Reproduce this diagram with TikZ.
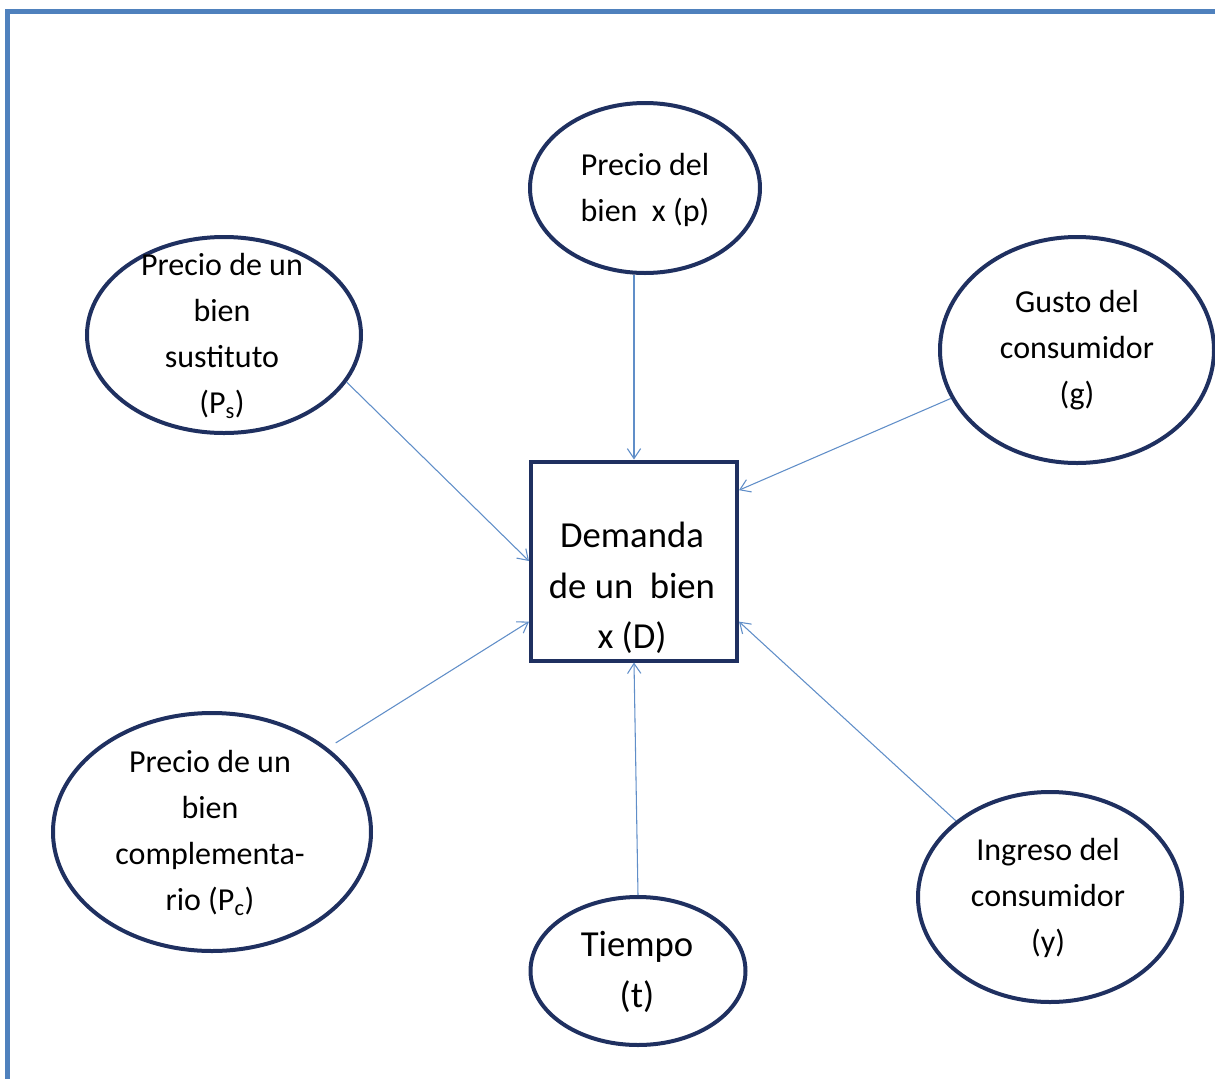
\documentclass[tikz,border=0pt]{standalone}
\usepackage{fontspec}
\setmainfont{Carlito}
\usetikzlibrary{shapes.geometric,arrows.meta}

\definecolor{framebl}{RGB}{79,129,189}
\definecolor{navyln}{RGB}{31,48,96}
\definecolor{arrowbl}{RGB}{96,142,200}

\tikzset{every picture/.style={line width=0.75pt}}
\tikzset{
  bub/.style={ellipse, draw=navyln, line width=3pt, inner sep=0pt},
  txt/.style={align=center, inner sep=0pt, font=\fontsize{24}{34.5}\selectfont},
  bigtxt/.style={align=center, inner sep=0pt, font=\fontsize{27.5}{38}\selectfont},
  feed/.style={draw=arrowbl, line width=0.8pt, -{Straight Barb[length=7.5pt,width=10pt]}}
}

\begin{document}
\begin{tikzpicture}[x=0.75pt,y=0.75pt,yscale=-1,xscale=1]
\useasboundingbox (0,0) rectangle (1215,1079);

%Frame
\draw [color=framebl, line width=3.75pt] (7,1079) -- (7,11) -- (1215,11);

%Shape: Rectangle
\node [draw=navyln, line width=3pt, minimum width=154.5pt, minimum height=149.25pt, inner sep=0pt] (dem) at (634,561) {};
% Text Node
\node [bigtxt] (dem-t) at (632,588) {Demanda\\de un~ bien\\x (D)};

%Shape: Ellipse
\node [bub, minimum width=172.5pt, minimum height=127.5pt] (precio) at (645,188) {};
\node [txt] (precio-t) at (645,190) {Precio del\\bien~ x (p)};
%Shape: Ellipse
\node [bub, minimum width=205.5pt, minimum height=147pt] (sust) at (224,335) {};
\node [txt] (sust-t) at (222,336) {Precio de un\\bien\\sustituto\\(P\textsubscript{s})};
%Shape: Ellipse
\node [bub, minimum width=205.5pt, minimum height=169.5pt] (gusto) at (1077,350) {};
\node [txt] (gusto-t) at (1077,350) {Gusto del\\consumidor\\(g)};
%Shape: Ellipse
\node [bub, minimum width=238.5pt, minimum height=178.5pt] (compl) at (212,832) {};
\node [txt] (compl-t) at (210,833) {Precio de un\\bien\\complementa-\\rio (P\textsubscript{c})};
%Shape: Ellipse
\node [bub, minimum width=161.25pt, minimum height=111pt] (tiempo) at (638,971) {};
\node [bigtxt] (tiempo-t) at (637,972) {Tiempo\\(t)};
%Shape: Ellipse
\node [bub, minimum width=198pt, minimum height=157.5pt] (ingreso) at (1050,897) {};
\node [txt] (ingreso-t) at (1048,898) {Ingreso del\\consumidor\\(y)};

%Straight Lines
\draw [feed] (precio.south -| dem.north) -- (dem.north);
\draw [feed] (sust.-21) -- (dem.west);
\draw [feed] (gusto.201) -- (dem.34.6);
\draw [feed] ([shift={(8,-5)}]compl.36) -- (dem.210.6);
\draw [feed] (tiempo.north) -- (dem.south);
\draw [feed] (ingreso.141.6) -- (dem.-30.6);

\end{tikzpicture}
\end{document}
